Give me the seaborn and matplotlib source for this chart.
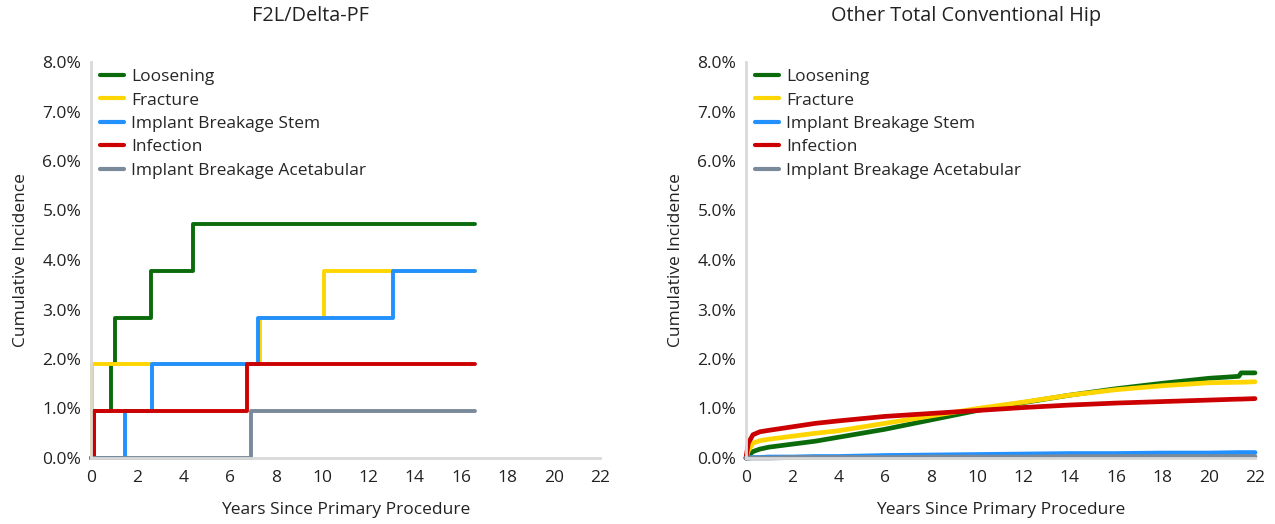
import matplotlib
matplotlib.use("Agg")
import matplotlib.pyplot as plt
import seaborn as sns
import pandas as pd
import numpy as np
from matplotlib.ticker import FuncFormatter, MultipleLocator

# series names / colours (legend order)
series = ["Loosening", "Fracture", "Implant Breakage Stem", "Infection", "Implant Breakage Acetabular"]
colors = ["#0b6b0b", "#ffd500", "#2291ff", "#cc0000", "#7a8a9a"]

# F2L/Delta-PF: step functions (years, cumulative incidence %)
f2l_loosening_x = [0, 0.14, 0.85, 1.04, 2.58, 4.42, 16.6]
f2l_loosening_y = [0, 0.94, 1.89, 2.83, 3.77, 4.72, 4.72]
f2l_fracture_x = [0, 0.03, 7.3, 10.05, 16.6]
f2l_fracture_y = [0, 1.89, 2.83, 3.77, 3.77]
f2l_stem_x = [0, 1.47, 2.62, 7.2, 13.06, 16.6]
f2l_stem_y = [0, 0.94, 1.89, 2.83, 3.77, 3.77]
f2l_infection_x = [0, 0.14, 6.73, 16.6]
f2l_infection_y = [0, 0.94, 1.89, 1.89]
f2l_acet_x = [0, 6.9, 16.6]
f2l_acet_y = [0, 0.94, 0.94]

# Other Total Conventional Hip
other_years = [0, 0.1, 0.3, 0.6, 1, 2, 3, 4, 6, 8, 10, 12, 14, 16, 18, 20, 21.3, 21.4, 22]
other_loosening = [0, 0.05, 0.13, 0.18, 0.22, 0.28, 0.34, 0.42, 0.58, 0.77, 0.96, 1.12, 1.27, 1.40, 1.51, 1.61, 1.65, 1.72, 1.72]
other_fracture = [0, 0.15, 0.30, 0.35, 0.38, 0.44, 0.50, 0.55, 0.70, 0.85, 1.00, 1.13, 1.27, 1.38, 1.46, 1.52, 1.53, 1.53, 1.54]
other_stem = [0, 0, 0.01, 0.01, 0.02, 0.02, 0.03, 0.03, 0.05, 0.06, 0.07, 0.08, 0.09, 0.09, 0.10, 0.10, 0.11, 0.11, 0.11]
other_infection = [0, 0.30, 0.47, 0.53, 0.56, 0.63, 0.70, 0.75, 0.84, 0.90, 0.96, 1.02, 1.07, 1.11, 1.14, 1.17, 1.19, 1.19, 1.20]
other_acet = [0, 0, 0, 0, 0, 0.01, 0.01, 0.01, 0.01, 0.02, 0.02, 0.02, 0.03, 0.03, 0.03, 0.03, 0.03, 0.03, 0.03]

x_ticks = list(range(0, 23, 2))

sns.set_style("white")
plt.rcParams['font.family'] = ['Open Sans', 'DejaVu Sans']
FS = 12.5

def long_df(xs, ys):
    frames = []
    for name, x, y in zip(series, xs, ys):
        frames.append(pd.DataFrame({"Years": x, "Incidence": y, "Type": name}))
    return pd.concat(frames, ignore_index=True)

df_left = long_df([f2l_loosening_x, f2l_fracture_x, f2l_stem_x, f2l_infection_x, f2l_acet_x],
                  [f2l_loosening_y, f2l_fracture_y, f2l_stem_y, f2l_infection_y, f2l_acet_y])
df_right = long_df([other_years] * 5,
                   [other_loosening, other_fracture, other_stem, other_infection, other_acet])

W, H = 1275, 524
fig = plt.figure(figsize=(W / 100, H / 100), dpi=100)
ax_l = fig.add_axes([91 / W, 66 / H, 509 / W, 396 / H])
ax_r = fig.add_axes([746 / W, 66 / H, 509 / W, 396 / H])

palette = dict(zip(series, colors))
sns.lineplot(data=df_left, x="Years", y="Incidence", hue="Type", hue_order=series,
             palette=palette, estimator=None, sort=False, drawstyle="steps-post",
             linewidth=2.8, ax=ax_l, clip_on=False)
sns.lineplot(data=df_right, x="Years", y="Incidence", hue="Type", hue_order=series,
             palette=palette, estimator=None, sort=False,
             linewidth=3.4, ax=ax_r, clip_on=False)

for ax in (ax_l, ax_r):
    ax.set_xlim(0, 22)
    ax.set_ylim(0, 8)
    ax.set_xticks(x_ticks)
    ax.yaxis.set_major_locator(MultipleLocator(1))
    ax.yaxis.set_major_formatter(FuncFormatter(lambda v, p: f"{v:.1f}%"))
    for s in ["top", "right"]:
        ax.spines[s].set_visible(False)
    for s in ["left", "bottom"]:
        ax.spines[s].set_color("#d9d9d9")
        ax.spines[s].set_linewidth(2)
    ax.tick_params(axis="x", length=4, width=1, color="#d9d9d9",
                   labelsize=FS, labelcolor="#222222", pad=5)
    ax.tick_params(axis="y", length=4, width=1, color="#d9d9d9",
                   labelsize=FS, labelcolor="#222222", pad=3)
    ax.set_xlabel("Years Since Primary Procedure", fontsize=FS, color="#222222", labelpad=11)
    ax.set_ylabel("Cumulative Incidence", fontsize=FS, color="#222222", labelpad=10)
    leg = ax.legend(loc="upper left", frameon=False, fontsize=FS, handlelength=1.35,
                    handletextpad=0.4, labelspacing=0.42, borderaxespad=0.0,
                    bbox_to_anchor=(0.005, 1.0))
    for line in leg.get_lines():
        line.set_linewidth(3)

fig.text(310 / W, 1 - 16 / H, "F2L/Delta-PF", ha="center", va="center", fontsize=14.3, color="#222222")
fig.text(966 / W, 1 - 16 / H, "Other Total Conventional Hip", ha="center", va="center",
         fontsize=14.3, color="#222222")

fig.savefig("out.png", dpi=100, facecolor="white")
